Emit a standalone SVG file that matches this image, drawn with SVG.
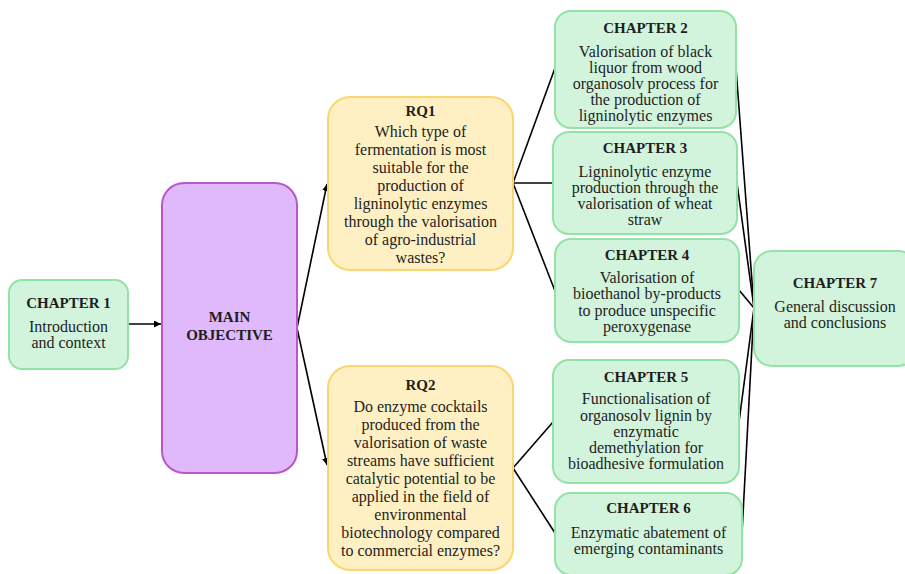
<svg xmlns="http://www.w3.org/2000/svg" width="905" height="574" viewBox="0 0 905 574">
<style>
.g{fill:#d3f4dc;stroke:#93e2a6;stroke-width:2}
.p{fill:#e0b9fc;stroke:#b657cc;stroke-width:2}
.y{fill:#fff0c3;stroke:#f9d670;stroke-width:2}
text{font-family:"Liberation Serif","Times New Roman",serif;fill:#1e1e1e;text-anchor:middle}
.t{font-weight:bold;font-size:15px}
.b{font-size:16px}
.c line,.c polyline{stroke:#000;stroke-width:1.6;fill:none}
</style>
<defs>
<marker id="ah" viewBox="0 0 10 10" refX="10" refY="5" markerWidth="7" markerHeight="7" markerUnits="userSpaceOnUse" orient="auto">
<path d="M0,0L10,5L0,10z" fill="#000"/>
</marker>
</defs>
<g class="c" id="connectors">
<line x1="128" y1="324" x2="161" y2="324" marker-end="url(#ah)"/>
<line x1="297" y1="328" x2="327" y2="184" marker-end="url(#ah)"/>
<line x1="297" y1="328" x2="327" y2="465" marker-end="url(#ah)"/>
<line x1="513" y1="183" x2="555" y2="68"/>
<line x1="513" y1="183" x2="553" y2="183"/>
<line x1="513" y1="183" x2="555" y2="291"/>
<line x1="513" y1="468" x2="553" y2="422"/>
<line x1="513" y1="468" x2="555" y2="533"/>
<line x1="736" y1="68" x2="754" y2="308"/>
<line x1="737" y1="183" x2="754" y2="308"/>
<line x1="739" y1="290" x2="754" y2="308"/>
<line x1="739" y1="422" x2="754" y2="308"/>
<line x1="742" y1="533" x2="754" y2="308"/>
</g>
<g id="ch1">
<rect class="g" x="9" y="280" width="119" height="89" rx="13"/>
<text class="t" x="68.5" y="308">CHAPTER 1</text>
<text class="b" x="68.5" y="332">Introduction</text>
<text class="b" x="68.5" y="348">and context</text>
</g>
<g id="main">
<rect class="p" x="162" y="183" width="135" height="290" rx="22"/>
<text class="t" x="229.5" y="322">MAIN</text>
<text class="t" x="229.5" y="340">OBJECTIVE</text>
</g>
<g id="rq1">
<rect class="y" x="328" y="97" width="185" height="173" rx="22"/>
<text class="t" x="420.5" y="116">RQ1</text>
<text class="b" x="420.5" y="137">Which type of</text>
<text class="b" x="420.5" y="155">fermentation is most</text>
<text class="b" x="420.5" y="173">suitable for the</text>
<text class="b" x="420.5" y="191">production of</text>
<text class="b" x="420.5" y="209">ligninolytic enzymes</text>
<text class="b" x="420.5" y="227">through the valorisation</text>
<text class="b" x="420.5" y="245">of agro-industrial</text>
<text class="b" x="420.5" y="263">wastes?</text>
</g>
<g id="rq2">
<rect class="y" x="328" y="366" width="185" height="204" rx="22"/>
<text class="t" x="420.5" y="390">RQ2</text>
<text class="b" x="420.5" y="412">Do enzyme cocktails</text>
<text class="b" x="420.5" y="430">produced from the</text>
<text class="b" x="420.5" y="448">valorisation of waste</text>
<text class="b" x="420.5" y="466">streams have sufficient</text>
<text class="b" x="420.5" y="484">catalytic potential to be</text>
<text class="b" x="420.5" y="502">applied in the field of</text>
<text class="b" x="420.5" y="520">environmental</text>
<text class="b" x="420.5" y="538">biotechnology compared</text>
<text class="b" x="420.5" y="556">to commercial enzymes?</text>
</g>
<g id="ch2">
<rect class="g" x="555" y="11" width="181" height="117" rx="16"/>
<text class="t" x="645.5" y="33">CHAPTER 2</text>
<text class="b" x="645.5" y="57">Valorisation of black</text>
<text class="b" x="645.5" y="73">liquor from wood</text>
<text class="b" x="645.5" y="89">organosolv process for</text>
<text class="b" x="645.5" y="105">the production of</text>
<text class="b" x="645.5" y="121">ligninolytic enzymes</text>
</g>
<g id="ch3">
<rect class="g" x="553" y="132" width="184" height="102" rx="16"/>
<text class="t" x="645" y="153">CHAPTER 3</text>
<text class="b" x="645" y="177">Ligninolytic enzyme</text>
<text class="b" x="645" y="193">production through the</text>
<text class="b" x="645" y="209">valorisation of wheat</text>
<text class="b" x="645" y="225">straw</text>
</g>
<g id="ch4">
<rect class="g" x="555" y="239" width="184" height="103" rx="16"/>
<text class="t" x="647" y="260">CHAPTER 4</text>
<text class="b" x="647" y="283">Valorisation of</text>
<text class="b" x="647" y="299">bioethanol by-products</text>
<text class="b" x="647" y="316">to produce unspecific</text>
<text class="b" x="647" y="332">peroxygenase</text>
</g>
<g id="ch5">
<rect class="g" x="553" y="360" width="186" height="123" rx="16"/>
<text class="t" x="646" y="382">CHAPTER 5</text>
<text class="b" x="646" y="404">Functionalisation of</text>
<text class="b" x="646" y="421">organosolv lignin by</text>
<text class="b" x="646" y="437">enzymatic</text>
<text class="b" x="646" y="453">demethylation for</text>
<text class="b" x="646" y="469">bioadhesive formulation</text>
</g>
<g id="ch6">
<rect class="g" x="555" y="493" width="187" height="82" rx="16"/>
<text class="t" x="648.5" y="513">CHAPTER 6</text>
<text class="b" x="648.5" y="538">Enzymatic abatement of</text>
<text class="b" x="648.5" y="554">emerging contaminants</text>
</g>
<g id="ch7">
<rect class="g" x="754" y="251" width="162" height="115" rx="18"/>
<text class="t" x="835" y="288">CHAPTER 7</text>
<text class="b" x="835" y="312">General discussion</text>
<text class="b" x="835" y="328">and conclusions</text>
</g>
</svg>
